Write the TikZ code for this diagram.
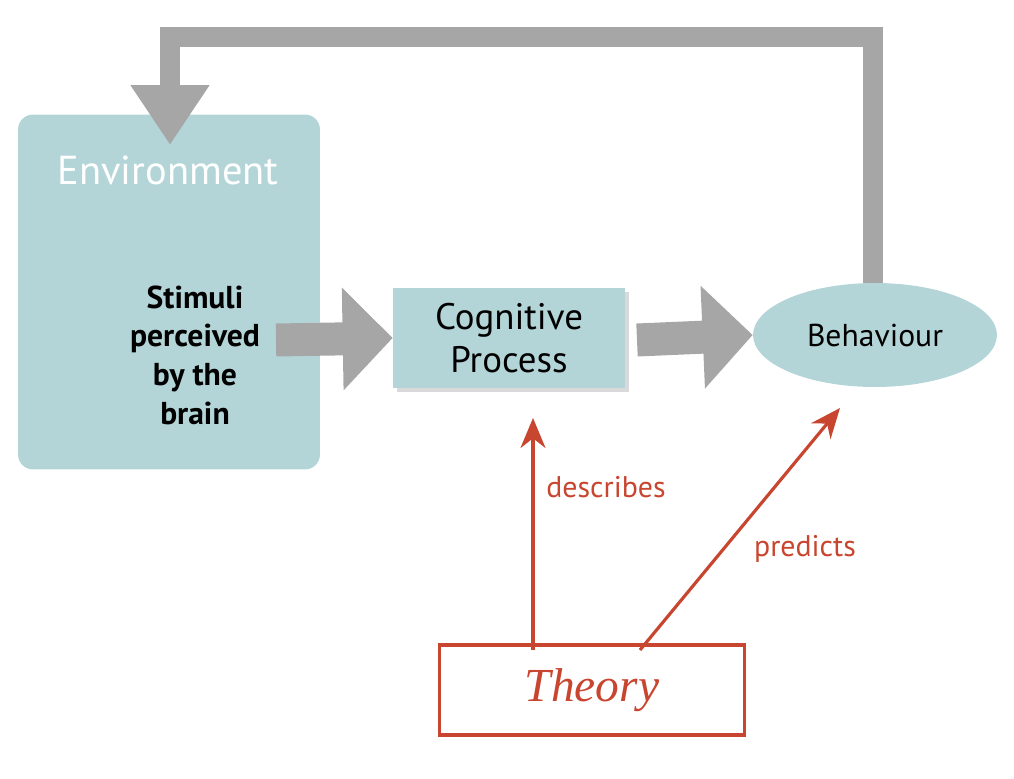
\documentclass[tikz,border=0pt]{standalone}
\usepackage{fontspec}
\setmainfont{PT Sans}
\newfontfamily\theoryfont{Liberation Serif}
\usetikzlibrary{arrows.meta, positioning, shadows, shapes.geometric}
\definecolor{boxteal}{HTML}{B4D5D8}
\definecolor{arrowgray}{HTML}{A6A6A6}
\definecolor{theoryred}{HTML}{C8452F}
\tikzset{
  block/.style={fill=boxteal, draw=none},
  bigarrow/.style={draw=arrowgray, line width=0.66cm,
    -{Triangle[width=2cm,length=1cm]}, arrowgray},
  loop/.style={draw=arrowgray, line width=0.4cm,
    -{Triangle[width=1.5cm,length=1.2cm]}, arrowgray},
  redarrow/.style={draw=theoryred, line width=1.8pt,
    -{Stealth[length=0.6cm,width=0.5cm]}},
  redlabel/.style={text=theoryred, font=\fontsize{17}{20}\selectfont}
}
\begin{document}
\begin{tikzpicture}[x=0.02cm, y=-0.02cm]
  \useasboundingbox (0,0) rectangle (1014,778);
  \node [block, rounded corners=0.3cm, minimum width=6.04cm, minimum height=7.1cm]
    (env) at (169,292) {};
  \node [text=white, font=\fontsize{23}{26}\selectfont] (envtitle) at (168,170) {Environment};
  \node [align=center, font=\fontsize{18}{22}\selectfont\bfseries] (stim) at (195,355)
    {Stimuli\\perceived\\by the\\brain};
  \node [block, drop shadow={opacity=0.3}, minimum width=4.64cm, minimum height=2cm,
    align=center, font=\fontsize{21}{24}\selectfont] (cog) at (509,338) {Cognitive\\Process};
  \node [block, ellipse, minimum width=4.88cm, minimum height=2.08cm,
    font=\fontsize{18}{22}\selectfont] (beh) at (875,335) {Behaviour};
  \node [draw=theoryred, line width=1.8pt, minimum width=6.1cm, minimum height=1.8cm,
    text=theoryred, font=\theoryfont\itshape\fontsize{27}{30}\selectfont] (theory) at (592,690) {Theory};

  % grey flow arrows
  \coordinate (stimout) at (276,340);
  \coordinate (behout) at (637,340);
  \draw [bigarrow] (stimout) -- (cog.west);
  \draw [bigarrow] (behout) -- (beh.west);
  % feedback loop
  \coordinate (loopa) at (873,37);
  \coordinate (loopb) at (170,37);
  \coordinate (envin) at (170,145);
  \draw [loop] (beh.north -| loopa) -- (loopa) -- (loopb) -- (envin);

  % theory arrows
  \coordinate (descfrom) at (533,650);
  \coordinate (descto) at (533,418);
  \coordinate (predfrom) at (640,650);
  \coordinate (predto) at (840,408);
  \draw [redarrow] (descfrom) -- (descto);
  \draw [redarrow] (predfrom) -- (predto);
  \node [redlabel] (desc) at (606,487) {describes};
  \node [redlabel] (pred) at (805,549) {predicts};
\end{tikzpicture}
\end{document}
